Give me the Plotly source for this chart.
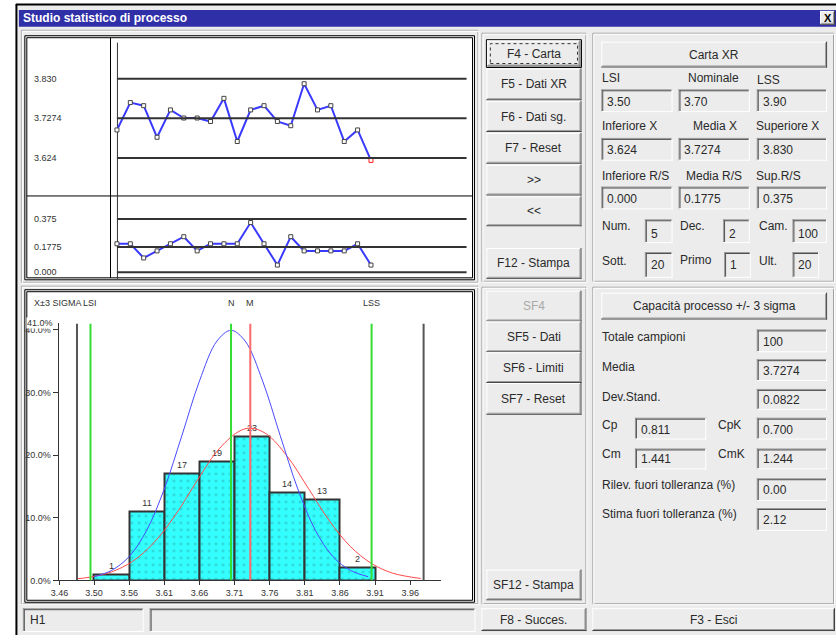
import plotly.graph_objects as go

W, H = 836, 640
FONT = "Liberation Sans"
BG = "#ececec"
INK = "#2a2a2a"

# ---- control chart data (20 subgroups) ----
samples = list(range(1, 21))
xbar = [3.697, 3.768, 3.760, 3.678, 3.749, 3.728, 3.728, 3.719, 3.779, 3.667,
        3.749, 3.760, 3.719, 3.708, 3.817, 3.749, 3.760, 3.667, 3.697, 3.618]
ranges = [0.20, 0.20, 0.10, 0.15, 0.20, 0.25, 0.15, 0.20, 0.20, 0.20,
          0.35, 0.20, 0.05, 0.25, 0.15, 0.15, 0.15, 0.15, 0.20, 0.05]
xbar_limits = [3.830, 3.7274, 3.624]
xbar_limit_labels = ["3.830", "3.7274", "3.624"]
r_limits = [0.375, 0.1775, 0.000]
r_limit_labels = ["0.375", "0.1775", "0.000"]

# ---- histogram data ----
bin_centers = [3.530, 3.580, 3.630, 3.680, 3.730, 3.780, 3.830, 3.880]
counts = [1, 11, 17, 19, 23, 14, 13, 2]
edge_ticks = [3.456, 3.505, 3.555, 3.605, 3.655, 3.705, 3.755, 3.805, 3.855, 3.905, 3.955]
edge_labels = ["3.46", "3.50", "3.56", "3.61", "3.66", "3.71", "3.76", "3.81", "3.86", "3.91", "3.96"]
pct_ticks = [0, 10, 20, 30, 40]
pct_labels = ["0.0%", "10.0%", "20.0%", "30.0%", "40.0%"]
lsi, lss, nominal, media = 3.50, 3.90, 3.70, 3.7274
sigma_lo, sigma_hi = 3.4808, 3.974

# curves (percent)
red_x = [3.48, 3.50, 3.53, 3.56, 3.59, 3.62, 3.65, 3.68, 3.71, 3.7274,
         3.75, 3.78, 3.81, 3.84, 3.87, 3.90, 3.93, 3.97]
red_y = [0.26, 0.53, 1.36, 3.05, 6.0, 10.3, 15.6, 20.6, 23.7, 24.3,
         23.4, 19.8, 14.7, 9.5, 5.4, 2.7, 1.16, 0.31]
blue_x = [3.505, 3.53, 3.555, 3.58, 3.605, 3.63, 3.655, 3.68, 3.70,
          3.72, 3.745, 3.77, 3.795, 3.82, 3.845, 3.87, 3.895]
blue_y = [0.6, 1.6, 3.8, 8.0, 14.6, 23.1, 31.8, 38.2, 39.9,
          38.2, 31.8, 23.1, 14.6, 8.0, 3.8, 1.6, 0.6]


def px(x):
    return x / W


def py(y):
    return 1 - y / H


shapes = []
annotations = []


def rect(x0, y0, x1, y1, fill=None, line=None, lw=1, dash=None, layer="below"):
    shapes.append(dict(type="rect", xref="paper", yref="paper",
                       x0=px(x0), x1=px(x1), y0=py(y1), y1=py(y0),
                       fillcolor=fill or "rgba(0,0,0,0)",
                       line=dict(color=line or "rgba(0,0,0,0)", width=lw if line else 0, dash=dash),
                       layer=layer))


def seg(x0, y0, x1, y1, color, w=1, layer="below"):
    shapes.append(dict(type="line", xref="paper", yref="paper",
                       x0=px(x0), y0=py(y0), x1=px(x1), y1=py(y1),
                       line=dict(color=color, width=w), layer=layer))


def label(x, y, s, size=12, color=INK, xa="left", xref="paper", yref="paper", bg=None):
    annotations.append(dict(text=s, x=px(x) if xref == "paper" else x,
                            y=py(y) if yref == "paper" else y,
                            xref=xref, yref=yref, xanchor=xa, yanchor="middle",
                            showarrow=False, borderpad=0, bgcolor=bg,
                            font=dict(size=size, color=color, family=FONT)))


def raised(x0, y0, x1, y1):
    rect(x0, y0, x1, y1, fill=BG)
    seg(x0, y0 + .5, x1 - 1, y0 + .5, "#ffffff")
    seg(x0 + .5, y0, x0 + .5, y1 - 1, "#ffffff")
    seg(x0, y1 - .5, x1, y1 - .5, "#404040")
    seg(x1 - .5, y0, x1 - .5, y1, "#404040")
    seg(x0 + 1, y1 - 1.5, x1 - 1, y1 - 1.5, "#9a9a9a")
    seg(x1 - 1.5, y0 + 1, x1 - 1.5, y1 - 1, "#9a9a9a")


def sunken(x0, y0, x1, y1):
    rect(x0, y0, x1, y1, fill=BG)
    seg(x0, y0 + .5, x1, y0 + .5, "#9a9a9a")
    seg(x0 + .5, y0, x0 + .5, y1, "#9a9a9a")
    seg(x0 + 1, y0 + 1.5, x1 - 1, y0 + 1.5, "#505050")
    seg(x0 + 1.5, y0 + 1, x0 + 1.5, y1 - 1, "#505050")
    seg(x0, y1 - .5, x1, y1 - .5, "#ffffff")
    seg(x1 - .5, y0, x1 - .5, y1, "#ffffff")


def etched(x0, y0, x1, y1):
    rect(x0 + .5, y0 + .5, x1 - 1.5, y1 - 1.5, line="#a0a0a0")
    rect(x0 + 1.5, y0 + 1.5, x1 - .5, y1 - .5, line="#ffffff")


def button(x0, y0, x1, y1, text, color=INK):
    raised(x0, y0, x1, y1)
    label((x0 + x1) / 2, (y0 + y1) / 2, text, color=color, xa="center")


def field(x0, y0, x1, y1, text, ty=None):
    sunken(x0, y0, x1, y1)
    label(x0 + 5, ty if ty else (y0 + y1) / 2 + 1, text)


# ---- window chrome ----
rect(8, 4, 836, 640, fill=BG)
seg(8, 4.5, 836, 4.5, "#000000", 2)
seg(8.5, 4, 8.5, 640, "#000000", 2)
rect(11, 10, 836, 27, fill="#2f2fa8")
label(14, 18.5, "<b>Studio statistico di processo</b>", size=12, color="#ffffff")
raised(820, 11, 835, 25)
label(827.5, 18.5, "<b>X</b>", size=11, color="#000000", xa="center")

# ---- chart panels ----
for (y0, y1) in [(30, 286), (288, 610)]:
    etched(13, y0, 476, y1)
rect(17, 36, 471, 282, line="#000000")
rect(19, 38, 469, 280, fill="#ffffff", line="#000000")
rect(17, 292, 471, 607, line="#000000")
rect(19, 294, 469, 605, fill="#ffffff", line="#000000")
seg(103.5, 38, 103.5, 280, "#000000")
seg(19, 197.5, 469, 197.5, "#000000")
seg(110.5, 43, 110.5, 281, "#333333")

# ---- button columns ----
etched(478, 33, 585, 285)
etched(478, 289, 585, 610)
rect(483, 40, 579, 68, line="#000000")
button(484, 41, 578, 67, "F4 - Carta")
rect(487, 44, 575, 64, line="#333333", dash="dot")
top_buttons = [("F5 - Dati XR", 69, 101), ("F6 - Dati sg.", 102, 133), ("F7 - Reset", 134, 165),
               (">>", 166, 197), ("<<", 198, 228), ("F12 - Stampa", 250, 281)]
for t, a, b in top_buttons:
    button(483, a, 579, b, t)
button(483, 293, 579, 324, "SF4", color="#a8a8a8")
for t, a, b in [("SF5 - Dati", 324, 355), ("SF6 - Limiti", 355, 386), ("SF7 - Reset", 386, 418),
                ("SF12 - Stampa", 574, 605)]:
    button(483, a, 579, b, t)

# ---- right panels ----
etched(590, 33, 835, 285)
etched(590, 289, 835, 610)
button(599, 42, 827, 68, "Carta XR")
label(599, 79, "LSI"); label(686, 79, "Nominale"); label(755, 81, "LSS")
field(599, 90, 671, 113, "3.50"); field(677, 90, 749, 113, "3.70"); field(756, 90, 827, 113, "3.90")
label(599, 127, "Inferiore X"); label(691, 127, "Media X"); label(754, 127, "Superiore X")
field(599, 139, 671, 162, "3.624"); field(677, 139, 749, 162, "3.7274"); field(756, 139, 827, 162, "3.830")
label(599, 177, "Inferiore R/S"); label(684, 177, "Media R/S"); label(754, 177, "Sup.R/S")
field(599, 188, 671, 211, "0.000"); field(677, 188, 749, 211, "0.1775"); field(756, 188, 827, 211, "0.375")
label(599, 228, "Num."); field(643, 221, 671, 245, "5", ty=236)
label(677, 228, "Dec."); field(722, 221, 749, 245, "2", ty=236)
label(757, 228, "Cam."); field(792, 221, 827, 245, "100", ty=236)
label(599, 263, "Sott."); field(643, 254, 671, 280, "20", ty=267)
label(677, 262, "Primo"); field(723, 254, 750, 280, "1", ty=267)
label(757, 263, "Ult."); field(792, 254, 819, 280, "20", ty=267)

button(599, 295, 827, 322, "Capacità processo +/- 3 sigma")
label(599, 340, "Totale campioni"); field(756, 332, 827, 355, "100", ty=345)
label(599, 370, "Media"); field(756, 362, 827, 384, "3.7274", ty=374)
label(599, 400, "Dev.Stand."); field(756, 392, 827, 413, "0.0822", ty=403)
label(599, 428, "Cp"); field(633, 421, 705, 443, "0.811", ty=433)
label(716, 428, "CpK"); field(756, 421, 827, 443, "0.700", ty=433)
label(599, 458, "Cm"); field(633, 452, 705, 473, "1.441", ty=463)
label(716, 458, "CmK"); field(756, 452, 827, 473, "1.244", ty=463)
label(599, 489, "Rilev. fuori tolleranza (%)"); field(756, 482, 827, 505, "0.00", ty=494)
label(599, 518, "Stima fuori tolleranza (%)"); field(756, 512, 827, 535, "2.12", ty=524)

# ---- status bar ----
sunken(15, 613, 137, 637)
label(21, 625, "H1")
sunken(143, 613, 472, 637)
button(478, 613, 584, 636, "F8 - Succes.")
button(590, 613, 835, 636, "F3 - Esci")

fig = go.Figure()

# X-bar chart
for v, t in zip(xbar_limits, xbar_limit_labels):
    shapes.append(dict(type="line", xref="x domain", yref="y", x0=0, x1=1, y0=v, y1=v,
                       line=dict(color="#333333", width=2)))
    label(25, v, t, size=9, color="#333333", xref="paper", yref="y")
fig.add_trace(go.Scatter(
    x=samples, y=xbar, mode="lines+markers", xaxis="x", yaxis="y", cliponaxis=False,
    line=dict(color="#3a3aff", width=2),
    marker=dict(symbol="square", size=4, color="#ffffff",
                line=dict(color=["#444444"] * 19 + ["#ff2020"], width=1))))

# R chart
for v, t in zip(r_limits, r_limit_labels):
    shapes.append(dict(type="line", xref="x2 domain", yref="y2", x0=0, x1=1, y0=v, y1=v,
                       line=dict(color="#333333", width=2)))
    label(25, v, t, size=9, color="#333333", xref="paper", yref="y2")
fig.add_trace(go.Scatter(
    x=samples, y=ranges, mode="lines+markers", xaxis="x2", yaxis="y2", cliponaxis=False,
    line=dict(color="#3a3aff", width=2),
    marker=dict(symbol="square", size=4, color="#ffffff", line=dict(color="#444444", width=1))))

# histogram
total = sum(counts)
pct = [c * 100 / total for c in counts]
fig.add_trace(go.Bar(
    x=bin_centers, y=pct, width=0.05, xaxis="x3", yaxis="y3",
    text=[str(c) for c in counts], textposition="outside", cliponaxis=False,
    textfont=dict(size=9, color="#333333", family=FONT),
    marker=dict(color="#33ffff", line=dict(color="#333333", width=2),
                pattern=dict(shape=".", size=7, solidity=0.12, fgcolor="#2a9a9a"))))
fig.add_trace(go.Scatter(x=red_x, y=red_y, mode="lines", xaxis="x3", yaxis="y3",
                         line=dict(color="#ff4a4a", width=1, shape="spline")))
fig.add_trace(go.Scatter(x=blue_x, y=blue_y, mode="lines", xaxis="x3", yaxis="y3",
                         line=dict(color="#4a4aff", width=1, shape="spline")))

vlines = [(sigma_lo, "#555555", 2), (sigma_hi, "#555555", 2), (lsi, "#33dd33", 2),
          (lss, "#33dd33", 2), (nominal, "#33dd33", 2), (media, "#ff6a6a", 2)]
for v, c, w in vlines:
    shapes.append(dict(type="line", xref="x3", yref="y3", x0=v, x1=v, y0=0, y1=41,
                       line=dict(color=c, width=w)))
label(25, 305, "X±3 SIGMA", size=9, color="#333333")
for v, t in [(lsi, "LSI"), (nominal, "N"), (media, "M"), (lss, "LSS")]:
    label(v, 305, t, size=9, color="#333333", xa="center", xref="x3")
label(46, 41, "41.0%", size=9, color="#333333", xa="right", yref="y3", bg="#ffffff")

hidden = dict(visible=False, fixedrange=True)
fig.update_layout(
    width=W, height=H, margin=dict(l=0, r=0, t=0, b=0),
    paper_bgcolor="#ffffff", plot_bgcolor="rgba(0,0,0,0)",
    showlegend=False, bargap=0, hovermode=False,
    font=dict(family=FONT, color=INK),
    xaxis=dict(domain=[px(110), px(463)], range=[1, 27.15], anchor="y", **hidden),
    yaxis=dict(domain=[py(197), py(43)], range=[3.527, 3.9235], anchor="x", **hidden),
    xaxis2=dict(domain=[px(110), px(463)], range=[1, 27.15], anchor="y2", **hidden),
    yaxis2=dict(domain=[py(280), py(200)], range=[-0.0399, 0.5198], anchor="x2", **hidden),
    xaxis3=dict(domain=[px(51), px(437)], range=[3.4545, 3.9985], anchor="y3",
                showline=True, linecolor="#333333", linewidth=1, showgrid=False, zeroline=False,
                ticks="outside", ticklen=4, tickcolor="#333333",
                tickvals=edge_ticks, ticktext=edge_labels,
                tickfont=dict(size=9, color="#333333")),
    yaxis3=dict(domain=[py(585), py(326)], range=[0, 41], anchor="x3",
                showline=True, linecolor="#333333", linewidth=1, showgrid=False, zeroline=False,
                ticks="outside", ticklen=5, tickcolor="#333333",
                tickvals=pct_ticks, ticktext=pct_labels,
                tickfont=dict(size=9, color="#333333")),
    shapes=shapes, annotations=annotations,
)

fig.write_html("out.html", config={"displayModeBar": False},
               post_script="document.body.style.margin='0px';")
